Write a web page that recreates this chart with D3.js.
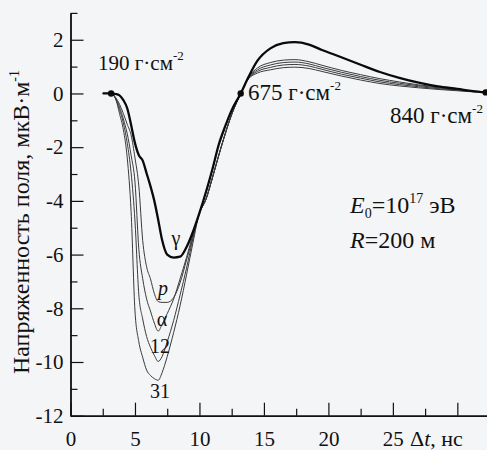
<!DOCTYPE html>
<html>
<head>
<meta charset="utf-8">
<script src="https://cdn.jsdelivr.net/npm/d3@7"></script>
<style>
  html, body { margin: 0; padding: 0; background: #f4f5f7; }
  svg { display: block; }
  svg text { font-family: "Liberation Serif", "Times New Roman", Tinos, "DejaVu Serif", serif !important; fill: #111; }
</style>
</head>
<body>
<svg id="chart" width="487" height="450"></svg>
<script>
// Time after shower arrival, ns (shared sample grid for all curves)
const time = [2.5, 3.15, 3.5, 3.8, 4.1, 4.4, 4.7, 5.0, 5.3, 5.6, 5.9, 6.2, 6.5, 6.8, 7.1, 7.5,
  8.0, 8.5, 9.0, 9.5, 10.0, 10.5, 11.0, 11.5, 12.0, 12.5, 13.2, 13.8, 14.5, 15.5, 16.5, 17.4,
  18.5, 19.5, 21, 22.5, 24, 25.5, 27, 28.5, 30, 31.2, 32.2];

// Field strength, µV/m, for each primary particle
const gamma = [0, 0, -0.02, -0.07, -0.25, -0.55, -1.17, -1.85, -2.3, -2.5, -2.97, -3.45, -4.0, -4.7, -5.45, -6.0,
  -6.11, -6.08, -5.72, -5.15, -4.45, -3.68, -2.83, -1.9, -1.22, -0.62, 0, 0.61, 1.22, 1.68, 1.87, 1.91,
  1.82, 1.62, 1.35, 1.07, 0.8, 0.58, 0.4, 0.26, 0.17, 0.09, 0.04];
const proton = [0, 0, -0.15, -0.4, -0.75, -1.15, -1.55, -2.4, -3.45, -5.48, -6.45, -6.9, -7.45, -7.75, -7.78, -7.78,
  -7.6, -7.05, -6.2, -5.35, -4.45, -3.95, -3.15, -2.3, -1.5, -0.78, 0, 0.6, 0.95, 1.15, 1.24, 1.26,
  1.18, 1.05, 0.86, 0.7, 0.55, 0.43, 0.32, 0.24, 0.15, 0.09, 0.04];
const alpha = [0, 0, -0.18, -0.5, -0.95, -1.5, -2.3, -3.3, -5.8, -6.9, -7.65, -8.1, -8.55, -8.85, -8.6, -8.2,
  -7.65, -6.9, -6.1, -5.25, -4.45, -3.95, -3.15, -2.3, -1.5, -0.78, 0, 0.58, 0.88, 1.06, 1.15, 1.17,
  1.1, 0.97, 0.79, 0.63, 0.49, 0.38, 0.29, 0.21, 0.14, 0.08, 0.04];
const carbon12 = [0, 0, -0.2, -0.6, -1.1, -1.85, -2.95, -4.75, -7.5, -8.4, -9.05, -9.45, -9.75, -9.98, -9.8, -9.25,
  -8.45, -7.5, -6.5, -5.4, -4.45, -3.95, -3.15, -2.3, -1.5, -0.78, 0, 0.56, 0.82, 0.97, 1.06, 1.08,
  1.02, 0.9, 0.72, 0.57, 0.43, 0.33, 0.25, 0.18, 0.12, 0.07, 0.04];
const nucleus31 = [0, 0, -0.2, -0.75, -1.35, -2.4, -4.4, -8.1, -9.25, -9.83, -10.3, -10.5, -10.62, -10.68, -10.4, -9.8,
  -8.9, -7.9, -6.75, -5.55, -4.45, -3.95, -3.15, -2.3, -1.5, -0.78, 0, 0.54, 0.76, 0.88, 0.96, 0.98,
  0.93, 0.82, 0.65, 0.5, 0.37, 0.28, 0.21, 0.15, 0.1, 0.06, 0.04];

const curveNames = ["31", "12", "α", "p", "γ"];
const curveValues = [nucleus31, carbon12, alpha, proton, gamma];

// Depth markers along the curves: time, field and atmospheric depth label
const markerTimes = [3.15, 13.2, 32.2];
const markerValues = [0, 0, 0.04];
const markerLabels = ["190 г·см", "675 г·см", "840 г·см"];

const xTicks = [0, 5, 10, 15, 20, 25, 30];
const xTickLabels = ["0", "5", "10", "15", "20", "25", ""];
const yTicks = [-12, -10, -8, -6, -4, -2, 0, 2];

const svg = d3.select("#chart");
const serif = "'Liberation Serif', 'Times New Roman', Tinos, 'DejaVu Serif', serif";

const x = d3.scaleLinear().domain([0, 32.3]).range([70.5, 487]);
const y = d3.scaleLinear().domain([-12, 3]).range([415.7, 12.9]);

// Axes: major ticks inward with labels, minor ticks shorter
const xAxis = d3.axisBottom(x).tickValues(xTicks)
  .tickFormat((d, i) => xTickLabels[i]).tickSizeInner(-13).tickSizeOuter(0).tickPadding(15);
const xMinor = d3.axisBottom(x).tickValues(d3.range(2.5, 32.3, 5))
  .tickFormat("").tickSizeInner(-7).tickSizeOuter(0);
const yAxis = d3.axisLeft(y).tickValues(yTicks)
  .tickFormat(d => String(d)).tickSizeInner(-13).tickSizeOuter(0).tickPadding(7);
const yMinor = d3.axisLeft(y).tickValues(d3.range(-11, 3.5, 2))
  .tickFormat("").tickSizeInner(-7).tickSizeOuter(0);

function styleAxis(g) {
  g.attr("font-family", serif);
  g.select(".domain").attr("stroke", "#111").attr("stroke-width", 1.4);
  g.selectAll(".tick line").attr("stroke", "#111").attr("stroke-width", 1.2);
  g.selectAll(".tick text").attr("font-size", 21).attr("fill", "#111");
}

svg.append("g").attr("transform", `translate(0,${y(-12)})`).call(xMinor).call(styleAxis);
svg.append("g").attr("transform", `translate(0,${y(-12)})`).call(xAxis).call(styleAxis);
svg.append("g").attr("transform", `translate(${x(0)},0)`).call(yMinor).call(styleAxis);
svg.append("g").attr("transform", `translate(${x(0)},0)`).call(yAxis).call(styleAxis);

// x-axis title in place of the last tick label
const xt = svg.append("text").attr("x", 410).attr("y", 446).attr("font-size", 22);
xt.append("tspan").text("Δ");
xt.append("tspan").attr("font-style", "italic").text("t");
xt.append("tspan").text(", нс");

// y-axis title
const yt = svg.append("text")
  .attr("transform", `translate(29,222) rotate(-90)`)
  .attr("text-anchor", "middle").attr("font-size", 24);
yt.append("tspan").text("Напряженность поля, мкВ·м");
yt.append("tspan").attr("dy", -10).attr("font-size", 14).text("-1");

// Field curves
const line = d3.line()
  .x((d, i) => x(time[i]))
  .y(d => y(d))
  .curve(d3.curveMonotoneX);

svg.append("g").selectAll("path").data(curveValues).join("path")
  .attr("d", d => line(d))
  .attr("fill", "none")
  .attr("stroke", (d, i) => curveNames[i] === "γ" ? "#0a0a0a" : "#3a3a3a")
  .attr("stroke-width", (d, i) => curveNames[i] === "γ" ? 2.3 : 1)
  .attr("stroke-linejoin", "round");

// Depth markers
svg.append("g").selectAll("circle").data(markerTimes).join("circle")
  .attr("cx", d => x(d)).attr("cy", (d, i) => y(markerValues[i]))
  .attr("r", 3.2).attr("fill", "#0a0a0a");

const markerLabelPos = [[98, 70], [248, 100], [390, 123]];
markerLabels.forEach((lbl, i) => {
  const t = svg.append("text").attr("x", markerLabelPos[i][0]).attr("y", markerLabelPos[i][1])
    .attr("font-size", i === 0 ? 21 : 23);
  t.append("tspan").text(lbl);
  t.append("tspan").attr("dy", -10).attr("font-size", 13).text("-2");
});

// Curve labels near their minima
const curveLabelPos = [[160, 398], [160, 353], [162, 326], [163, 295], [176, 245]];
svg.append("g").selectAll("text").data(curveNames).join("text")
  .attr("x", (d, i) => curveLabelPos[i][0]).attr("y", (d, i) => curveLabelPos[i][1])
  .attr("text-anchor", "middle").attr("font-size", 20)
  .attr("font-style", d => d === "p" ? "italic" : "normal")
  .text(d => d);

// Shower parameters
const e0 = svg.append("text").attr("x", 350).attr("y", 213).attr("font-size", 24);
e0.append("tspan").attr("font-style", "italic").text("E");
e0.append("tspan").attr("dy", 5).attr("font-size", 14).text("0");
e0.append("tspan").attr("dy", -5).text("=10");
e0.append("tspan").attr("dy", -10).attr("font-size", 14).text("17");
e0.append("tspan").attr("dy", 10).text(" эВ");

const rr = svg.append("text").attr("x", 350).attr("y", 248).attr("font-size", 24);
rr.append("tspan").attr("font-style", "italic").text("R");
rr.append("tspan").text("=200 м");
</script>
</body>
</html>
